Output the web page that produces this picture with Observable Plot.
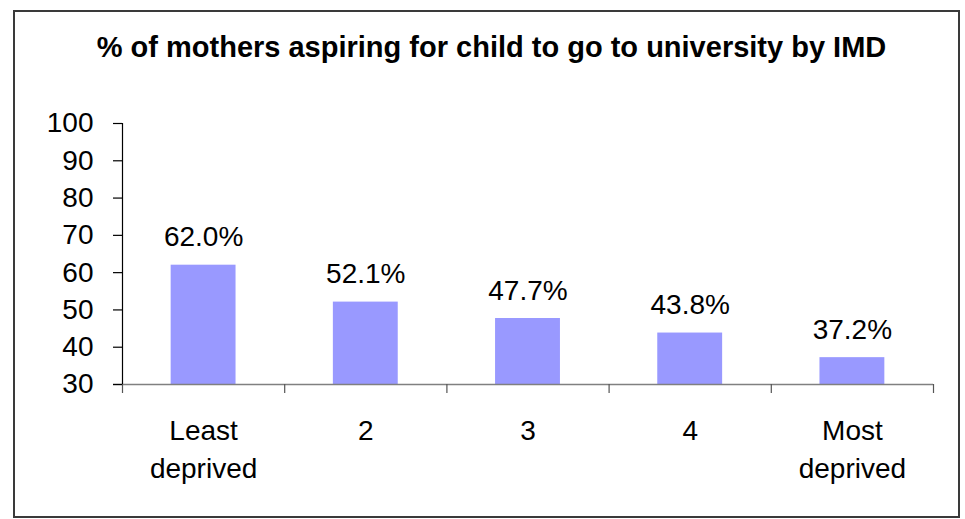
<!DOCTYPE html>
<html>
<head>
<meta charset="utf-8">
<script src="https://cdn.jsdelivr.net/npm/d3@7"></script>
<script src="https://cdn.jsdelivr.net/npm/@observablehq/plot@0.6"></script>
<style>
  html, body { margin: 0; padding: 0; background: #fff; }
  body { width: 965px; height: 519px; position: relative; overflow: hidden; font-family: "Liberation Sans", Arial, sans-serif; }
  #frame { position: absolute; left: 13px; top: 10px; width: 943px; height: 504px; border: 2px solid #3a3a3a; box-sizing: content-box; }
  #title { position: absolute; left: 0; width: 983px; top: 31px; text-align: center; font-weight: bold; font-size: 29px; color: #000; white-space: nowrap; }
  #chart { position: absolute; left: 0; top: 0; }
</style>
</head>
<body>
<div id="frame"></div>
<div id="title">% of mothers aspiring for child to go to university by IMD</div>
<div id="chart"></div>
<script>
const categories = ["Least\ndeprived", "2", "3", "4", "Most\ndeprived"];
const values = [62.0, 52.1, 47.7, 43.8, 37.2];
const valueLabels = ["62.0%", "52.1%", "47.7%", "43.8%", "37.2%"];
const yTicks = [30, 40, 50, 60, 70, 80, 90, 100];

const data = categories.map((c, i) => ({i, category: c, value: values[i], label: valueLabels[i]}));
const boundaries = d3.range(categories.length + 1);

const chart = Plot.plot({
  width: 965,
  height: 519,
  marginLeft: 122,
  marginRight: 32,
  marginTop: 123,
  marginBottom: 135,
  style: {fontFamily: '"Liberation Sans", Arial, sans-serif', fontSize: "28px", background: "transparent", color: "#000"},
  x: {type: "linear", domain: [0, categories.length], axis: null},
  y: {type: "linear", domain: [30, 100], axis: null},
  marks: [
    Plot.rectY(data, {x1: d => d.i + 0.3, x2: d => d.i + 0.7, y1: () => 30, y2: "value", fill: "#9999FF"}),
    Plot.ruleY([30], {stroke: "#808080", strokeWidth: 1.5, x1: 0, x2: categories.length, insetLeft: -9}),
    Plot.axisX({ticks: boundaries, tickFormat: () => "", tickSize: 9, stroke: "#555", strokeWidth: 1.2, label: null}),
    Plot.ruleX([0], {y1: 30, y2: 100, stroke: "#000", strokeWidth: 1.2}),
    Plot.axisY({ticks: yTicks, tickSize: 9, tickPadding: 20, fontSize: 28, stroke: "#000", strokeWidth: 1.2, label: null}),
    Plot.text(data, {x: d => d.i + 0.5, y: "value", text: "label", lineAnchor: "bottom", dy: -19, fontSize: 28, fill: "#000"}),
    Plot.text(data, {x: d => d.i + 0.5, y: () => 30, text: "category", lineAnchor: "top", dy: 29, lineHeight: 1.34, fontSize: 28, fill: "#000"})
  ]
});
document.getElementById("chart").appendChild(chart);
</script>
</body>
</html>
